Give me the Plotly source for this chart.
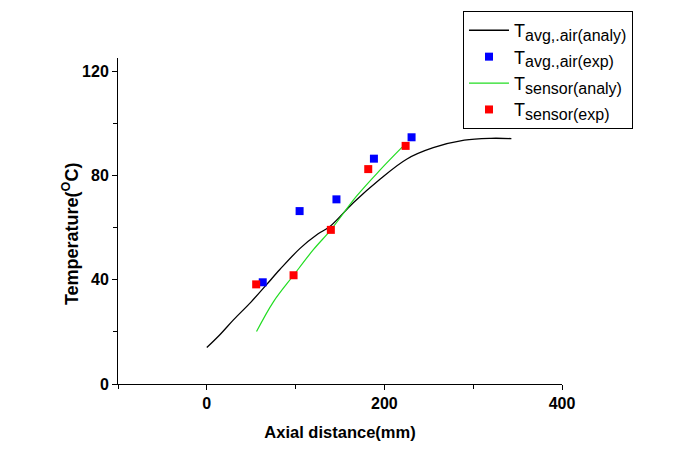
import plotly.graph_objects as go

# Black analytical curve: T_avg,air (analy)
air_analy_x = [0, 15, 30, 50, 67, 82, 105, 125, 139, 165, 195, 225, 255, 290, 320, 343]
air_analy_y = [14, 19, 24.6, 31.5, 38, 43.8, 52, 57.5, 60.5, 69.5, 78.5, 86.2, 90.6, 93.5, 94.2, 94.1]

# Blue experimental points: T_avg,air (exp)
air_exp_x = [63, 104.5, 146, 188.2, 230.6]
air_exp_y = [39.0, 66.3, 70.8, 86.4, 94.6]

# Green analytical curve: T_sensor (analy)
sensor_analy_x = [56, 75, 97.7, 120, 139.7, 168.6, 195, 220]
sensor_analy_y = [20.1, 31.5, 41.7, 51.5, 59.1, 72, 82, 90.8]

# Red experimental points: T_sensor (exp)
sensor_exp_x = [55.6, 97.7, 139.7, 181.8, 223.9]
sensor_exp_y = [38.2, 41.7, 59.1, 82.4, 91.3]

FONT = "Liberation Sans, Arial, sans-serif"


def leg(sub):
    return "T<sub><span style='font-size:16px'>%s</span></sub>" % sub


fig = go.Figure()
fig.add_trace(go.Scatter(x=air_analy_x, y=air_analy_y, mode="lines",
                         line=dict(color="black", width=1.3, shape="spline"),
                         name=leg("avg,.air(analy)")))
fig.add_trace(go.Scatter(x=air_exp_x, y=air_exp_y, mode="markers",
                         marker=dict(symbol="square", color="#0000ff", size=8),
                         name=leg("avg.,air(exp)")))
fig.add_trace(go.Scatter(x=sensor_analy_x, y=sensor_analy_y, mode="lines",
                         line=dict(color="#22dd22", width=1.2, shape="spline"),
                         name=leg("sensor(analy)")))
fig.add_trace(go.Scatter(x=sensor_exp_x, y=sensor_exp_y, mode="markers",
                         marker=dict(symbol="square", color="#ff0000", size=8),
                         name=leg("sensor(exp)")))

axis_common = dict(showgrid=False, zeroline=False, showline=True, linecolor="black",
                   linewidth=1, ticks="outside", ticklen=5, tickcolor="black",
                   tickfont=dict(family=FONT, size=16, color="black", weight="bold"),
                   mirror=False)

# page body has an 8px margin, so the figure is offset by 8px
fig.update_layout(
    width=668, height=450,
    margin=dict(l=110, r=114, t=50, b=74, autoexpand=False),
    paper_bgcolor="white", plot_bgcolor="white",
    font=dict(family=FONT, color="black"),
    xaxis=dict(range=[-100, 400], tickvals=[0, 200, 400],
               minor=dict(tickvals=[-100, 100, 300], ticks="outside", ticklen=4, tickcolor="black"),
               title=dict(text="Axial distance(mm)", standoff=15,
                          font=dict(family=FONT, size=16.5, color="black", weight="bold")),
               **axis_common),
    yaxis=dict(range=[0, 125], tickvals=[0, 40, 80, 120],
               minor=dict(tickvals=[20, 60, 100], ticks="outside", ticklen=4, tickcolor="black"),
               **axis_common),
    annotations=[dict(text="Temperature(<sup>O</sup>C)", textangle=-90,
                      xref="paper", yref="paper", x=-0.108, y=0.46,
                      xanchor="center", yanchor="middle", showarrow=False,
                      font=dict(family=FONT, size=18, color="black", weight="bold"))],
    showlegend=True,
    legend=dict(x=0.777, y=1.144, xanchor="left", yanchor="top",
                bordercolor="black", borderwidth=1, bgcolor="white",
                font=dict(family=FONT, size=18, color="black"),
                tracegroupgap=0, itemwidth=40),
)

fig.write_html("out.html")
